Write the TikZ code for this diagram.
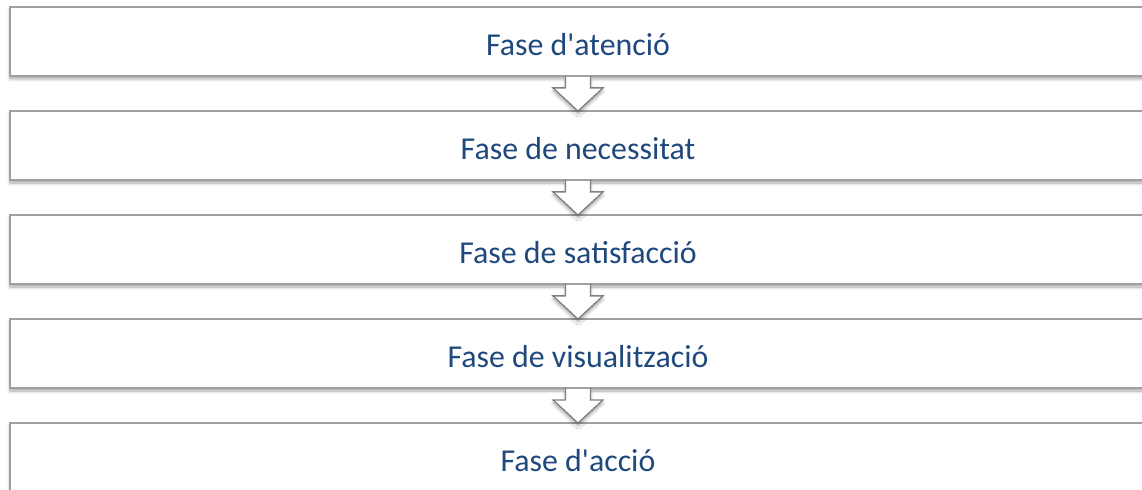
\documentclass[tikz,border=0pt]{standalone}
\usepackage{fontspec}
\setmainfont{Carlito}
\usetikzlibrary{calc,shadows.blur}
\definecolor{txtblue}{RGB}{31,73,125}
\definecolor{edgegray}{RGB}{160,160,160}
\begin{document}
\begin{tikzpicture}[x=1bp,y=-1bp,
  box/.style={draw=edgegray, line width=1.8bp, fill=white, minimum width=1136bp, minimum height=69bp,
    inner sep=0pt, text=txtblue, font=\fontsize{32}{38}\selectfont,
    blur shadow={shadow xshift=0bp, shadow yshift=-3bp, shadow blur radius=3bp, shadow opacity=35, shadow blur steps=6}},
  lbl/.style={text=txtblue, font=\fontsize{32}{38}\selectfont, inner sep=0pt},
  arrowfill/.style={fill=white, blur shadow={shadow xshift=0bp, shadow yshift=-3bp, shadow blur radius=3bp, shadow opacity=35, shadow blur steps=6}},
  arrowline/.style={draw=edgegray!80!black, line width=1.3bp, line join=miter}]
\useasboundingbox (0,0) rectangle (1142,490);
\node[box] (b1) at (578,41.5) {};
\node[box] (b2) at (578,145.5) {};
\node[box] (b3) at (578,249.5) {};
\node[box] (b4) at (578,353.5) {};
\node[box] (b5) at (578,457.5) {};
\node[lbl, anchor=base] (t1) at ($(b1.center)+(0,14)$) {Fase d\textquotesingle atenció};
\node[lbl, anchor=base] (t2) at ($(b2.center)+(0,14)$) {Fase de necessitat};
\node[lbl, anchor=base] (t3) at ($(b3.center)+(0,14)$) {Fase de satisfacció};
\node[lbl, anchor=base] (t4) at ($(b4.center)+(0,14)$) {Fase de visualització};
\node[lbl, anchor=base] (t5) at ($(b5.center)+(0,14)$) {Fase d\textquotesingle acció};
\foreach \a/\b in {b1/b2,b2/b3,b3/b4,b4/b5}{
  \path[arrowfill] ($(\a.south)+(-12.5,0)$) -- ++(0,11) -- ++(-12.5,0) -- ($(\b.north)+(0,1)$)
    -- ($(\a.south)+(25,11)$) -- ++(-12.5,0) -- ++(0,-11) -- cycle;
  \draw[arrowline] ($(\a.south)+(-12.5,-0.9)$) -- ++(0,11.9) -- ++(-12.5,0) -- ($(\b.north)+(0,1)$)
    -- ($(\a.south)+(25,11)$) -- ++(-12.5,0) -- ++(0,-11.9);
}
\end{tikzpicture}
\end{document}
